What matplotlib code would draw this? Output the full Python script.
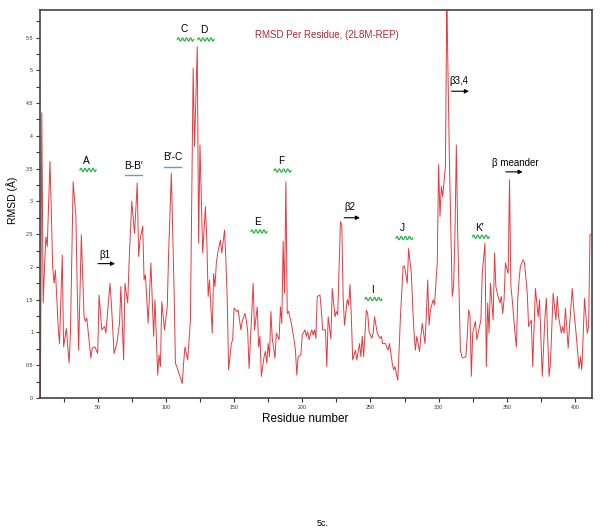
import numpy as np
import matplotlib
matplotlib.use("Agg")
import matplotlib.pyplot as plt

plt.rcParams['font.family'] = ['Liberation Sans', 'DejaVu Sans']

# RMSD per residue
residue = [8, 9, 10, 11, 12, 13, 15, 17, 18, 19, 21, 22, 24, 25, 27, 29, 30, 32, 34, 35,
           36, 38, 40, 41, 42, 45, 46, 48, 50, 51, 53, 55, 56, 57, 59, 60, 62, 64, 66, 67,
           69, 70, 72, 73, 75, 77, 79, 80, 81, 83, 84, 85, 87, 89, 91, 92, 94, 95, 96, 97,
           99, 101, 102, 104, 106, 107, 108, 110, 112, 113, 114, 116, 118, 120, 121, 123, 124, 125, 127, 129,
           130, 131, 132, 134, 135, 136, 137, 138, 140, 141, 143, 144, 145, 146, 148, 149, 150, 152, 153, 155,
           156, 158, 159, 160, 161, 164, 165, 167, 168, 169, 170, 172, 173, 174, 175, 176, 177, 178, 180, 181,
           183, 184, 185, 186, 187, 188, 189, 190, 192, 194, 195, 196, 197, 199, 200, 202, 203, 204, 205, 207,
           208, 209, 210, 211, 213, 214, 215, 217, 218, 219, 221, 222, 224, 225, 226, 228, 229, 230, 231, 233,
           234, 235, 236, 237, 239, 240, 242, 243, 244, 245, 247, 248, 249, 251, 252, 253, 255, 257, 258, 259,
           261, 263, 264, 266, 267, 268, 270, 271, 272, 274, 275, 277, 278, 280, 281, 282, 283, 284, 286, 287,
           288, 290, 291, 292, 293, 294, 296, 297, 298, 299, 300, 301, 302, 303, 305, 306, 308, 310, 311, 312,
           313, 314, 316, 317, 318, 320, 321, 322, 323, 324, 325, 327, 328, 329, 331, 332, 334, 335, 336, 337,
           338, 340, 341, 342, 343, 345, 346, 347, 348, 349, 351, 352, 353, 354, 356, 357, 358, 359, 360, 361,
           362, 363, 365, 366, 368, 369, 371, 373, 374, 376, 378, 379, 381, 382, 384, 385, 386, 387, 388, 390,
           391, 392, 393, 395, 396, 398, 399, 401, 403, 404, 405, 406, 407, 409, 410, 411, 412]
rmsd = [0.0, 4.35, 1.45, 2.0, 2.46, 2.31, 3.61, 2.0, 1.75, 1.95, 1.09, 0.83, 2.18, 0.78, 1.06, 0.53, 0.99, 3.30, 2.77, 1.65,
        0.73, 2.49, 1.24, 1.17, 1.22, 0.61, 0.76, 0.78, 0.68, 1.57, 1.04, 1.09, 0.99, 1.24, 1.75, 1.45, 0.68, 0.83, 1.14, 1.70,
        0.58, 1.75, 1.45, 2.06, 3.0, 2.51, 3.28, 2.16, 2.41, 2.62, 1.80, 1.88, 1.14, 2.06, 0.94, 1.50, 0.35, 0.66, 0.48, 1.47,
        1.04, 1.39, 2.21, 3.43, 1.65, 0.53, 0.48, 0.35, 0.22, 0.53, 0.78, 0.58, 1.19, 5.03, 3.84, 5.36, 2.36, 3.86, 2.21, 2.92,
        2.41, 1.55, 1.80, 0.99, 1.90, 1.70, 2.06, 2.21, 2.41, 2.21, 2.56, 2.11, 1.50, 0.43, 0.83, 0.89, 1.37, 1.32, 1.34, 1.04,
        1.17, 1.29, 1.19, 1.01, 0.45, 1.75, 1.04, 1.39, 0.78, 0.94, 0.33, 0.63, 0.71, 0.53, 0.83, 0.63, 1.32, 0.91, 0.61, 0.99,
        0.89, 1.39, 1.14, 2.39, 1.60, 3.30, 1.29, 1.32, 1.14, 0.89, 0.73, 0.35, 0.63, 0.66, 0.96, 1.04, 0.94, 1.01, 0.89, 1.04,
        0.96, 1.04, 0.91, 1.55, 1.57, 1.34, 1.04, 1.04, 0.48, 1.24, 0.90, 1.67, 1.24, 1.32, 1.27, 2.69, 2.64, 1.52, 1.11, 1.50,
        1.42, 1.73, 1.24, 0.58, 0.73, 0.58, 0.83, 0.63, 0.94, 0.63, 1.34, 1.29, 1.01, 0.91, 0.99, 1.24, 0.99, 0.91, 0.94, 0.83,
        0.83, 0.73, 0.83, 0.53, 0.43, 0.48, 0.27, 0.71, 1.24, 2.01, 2.01, 1.75, 2.28, 1.90, 1.39, 0.99, 0.73, 0.94, 0.71, 0.94,
        1.14, 0.83, 1.27, 1.80, 1.11, 1.34, 1.50, 1.42, 1.75, 2.06, 3.56, 2.77, 3.23, 3.07, 3.53, 6.10, 3.53, 1.55, 1.70, 2.51,
        3.86, 2.51, 0.73, 0.63, 0.61, 0.63, 0.94, 1.34, 1.27, 0.33, 0.99, 1.17, 0.89, 0.99, 1.19, 1.90, 2.36, 0.48, 1.45, 0.99,
        1.75, 1.19, 2.21, 1.70, 1.60, 1.45, 1.55, 1.29, 1.50, 2.06, 1.90, 3.33, 1.70, 1.50, 0.99, 0.78, 1.50, 1.80, 2.01, 2.06,
        2.11, 2.06, 1.60, 1.09, 1.19, 0.48, 1.67, 1.24, 1.50, 0.33, 1.24, 1.52, 0.33, 0.53, 1.60, 1.39, 1.19, 1.55, 1.24, 0.99,
        1.09, 0.99, 1.37, 0.76, 1.09, 1.67, 1.39, 0.94, 0.45, 0.63, 0.43, 0.94, 1.52, 0.99, 1.09, 2.49, 2.50]

# secondary structure labels
helix_labels = ['A', 'C', 'D', 'E', 'F', 'I', 'J', 'K\u2032']
loop_labels = ['B-B\u2032', 'B\u2032-C']
strand_labels = ['\u03b21', '\u03b22', '\u03b23,4', '\u03b2 meander']

fig = plt.figure(figsize=(6, 5.31), dpi=100)
ax = fig.add_axes([0.0667, 0.2505, 0.92, 0.7307])

ax.plot(residue, rmsd, color='#e53a40', lw=0.7)

ax.set_xlim(7.7, 412.5)
ax.set_ylim(0, 5.92)
ax.set_xticks(np.arange(50, 401, 50))
ax.set_xticks(np.arange(25, 412, 25), minor=True)
ax.set_yticks(np.arange(0, 5.6, 0.5))
ax.set_yticks(np.arange(0, 5.9, 0.25), minor=True)
ax.set_yticklabels(['0', '0.5', '1', '1.5', '2', '2.5', '3', '3.5', '4', '4.5', '5', '5.5'])
ax.tick_params(which='both', direction='out', length=3, width=0.8, colors='#333333',
               labelsize=3.8, pad=2)
for s in ax.spines.values():
    s.set_color('#444444')
    s.set_linewidth(1.2)

fig.text(0.02, 0.623, 'RMSD (\u00c5)', rotation=90, ha='center', va='center', fontsize=7.5)
fig.text(0.508, 0.211, 'Residue number', ha='center', va='center', fontsize=8.5)
fig.text(0.537, 0.015, '5c.', ha='center', va='center', fontsize=6.5)

ax.text(218, 5.54, 'RMSD Per Residue, (2L8M-REP)', color='#b5282e', fontsize=7,
        ha='center', va='center')


def squiggle(x0, x1, y):
    xs = np.linspace(x0, x1, 60)
    ys = y + 0.025 * np.sin((xs - x0) / (x1 - x0) * 4 * 2 * np.pi)
    ax.plot(xs, ys, color='#2eb34a', lw=0.9)


# helices: label (x, y), squiggle (x0, x1, y)
helix_pos = [(41.4, 3.62, 37, 48.8, 3.48), (113.3, 5.63, 108.5, 120.3, 5.47),
             (128, 5.62, 123.5, 135.3, 5.47), (167.5, 2.69, 162.4, 174.1, 2.54),
             (184.4, 3.62, 179.3, 191.7, 3.47), (251.6, 1.65, 246, 258.4, 1.51),
             (273.3, 2.59, 268.7, 280.9, 2.44), (330.3, 2.6, 324.9, 337.1, 2.46)]
for lab, (tx, ty, x0, x1, y) in zip(helix_labels, helix_pos):
    ax.text(tx, ty, lab, fontsize=7.3, ha='center', va='center')
    squiggle(x0, x1, y)

loop_pos = [(76.6, 3.54, 70, 82.5, 3.40), (105.2, 3.68, 98.7, 111.1, 3.52)]
for lab, (tx, ty, x0, x1, y) in zip(loop_labels, loop_pos):
    ax.text(tx, ty, lab, fontsize=7.3, ha='center', va='center')
    ax.plot([x0, x1], [y, y], color='#5b9fd6', lw=1.0)

strand_pos = [(55.4, 2.18, 50.2, 62.7, 2.05), (235, 2.92, 230.8, 242.3, 2.75),
              (314.9, 4.84, 309.5, 322.2, 4.68), (356.4, 3.59, 349.3, 361.6, 3.45)]
for lab, (tx, ty, x0, x1, y) in zip(strand_labels, strand_pos):
    ax.text(tx, ty, lab, fontsize=7, ha='center', va='center')
    ax.annotate('', xy=(x1, y), xytext=(x0, y),
                arrowprops=dict(arrowstyle='-|>', color='black', lw=0.8,
                                mutation_scale=6, shrinkA=0, shrinkB=0))

fig.savefig('out.png', dpi=100)
